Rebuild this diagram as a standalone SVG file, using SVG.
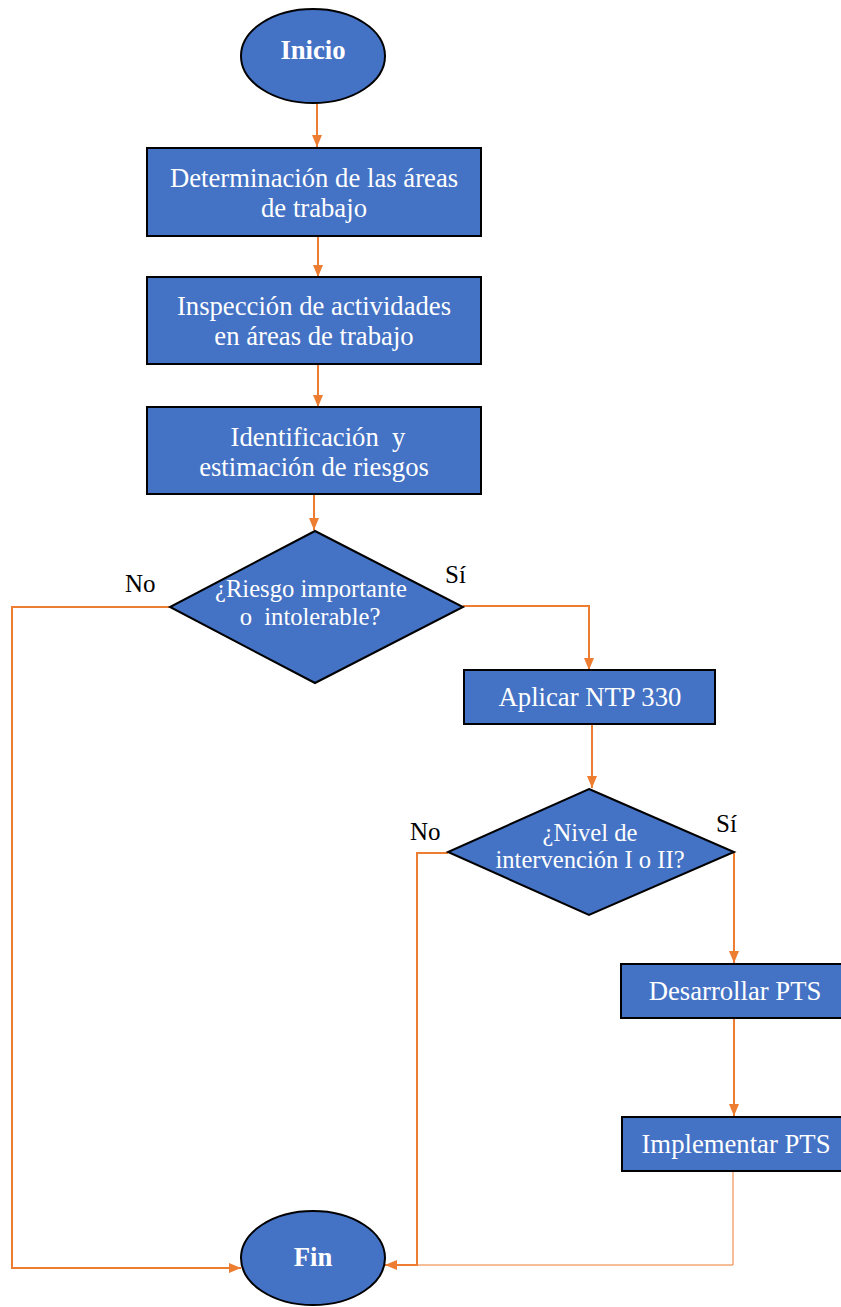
<svg xmlns="http://www.w3.org/2000/svg" width="841" height="1307" viewBox="0 0 841 1307" font-family="'Liberation Serif', 'Times New Roman', serif">
<style>
.shape{fill:#4472C4;stroke:#000;stroke-width:2}
.t{font-family:'Liberation Serif','Times New Roman',serif;font-size:26.7px;fill:#fff;text-anchor:middle}
.d{font-size:24.6px}
.b{font-weight:bold}
.lbl{font-family:'Liberation Serif','Times New Roman',serif;font-size:25px;fill:#000}
.c{fill:none;stroke:#ED7D31;stroke-width:2}
.thin{stroke-width:1}
</style>
<defs>
<marker id="ah" viewBox="0 0 12 10" refX="12" refY="5" markerWidth="12" markerHeight="10" markerUnits="userSpaceOnUse" orient="auto">
<path d="M0,0 L12,5 L0,10 z" fill="#ED7D31"/>
</marker>
</defs>
<g id="connectors">
<path class="c" d="M317,102 V147" marker-end="url(#ah)"/>
<path class="c" d="M318,236 V277" marker-end="url(#ah)"/>
<path class="c" d="M318,364 V407" marker-end="url(#ah)"/>
<path class="c" d="M314,494 V530" marker-end="url(#ah)"/>
<path class="c" d="M170,607 H12 V1268 H241" marker-end="url(#ah)"/>
<path class="c" d="M463,606 H589 V670" marker-end="url(#ah)"/>
<path class="c" d="M592,724 V788" marker-end="url(#ah)"/>
<path class="c" d="M448,853 H417 V1265 H385" marker-end="url(#ah)"/>
<path class="c" d="M734,852 V963" marker-end="url(#ah)"/>
<path class="c" d="M734,1018 V1116" marker-end="url(#ah)"/>
<path class="c thin" d="M733,1172 V1265 H400"/>
</g>
<g id="inicio">
<ellipse class="shape" cx="313" cy="56" rx="72" ry="47"/>
<text class="t b" x="313" y="59">Inicio</text>
</g>
<g id="determinacion">
<rect class="shape" x="147" y="148" width="334" height="88"/>
<text class="t" x="314" y="187">Determinación de las áreas</text>
<text class="t" x="314" y="217">de trabajo</text>
</g>
<g id="inspeccion">
<rect class="shape" x="147" y="277" width="334" height="87"/>
<text class="t" x="314" y="315">Inspección de actividades</text>
<text class="t" x="314" y="345">en áreas de trabajo</text>
</g>
<g id="identificacion">
<rect class="shape" x="147" y="407" width="334" height="87"/>
<text class="t" x="318" y="446" xml:space="preserve">Identificación  y</text>
<text class="t" x="314" y="476">estimación de riesgos</text>
</g>
<g id="decision1">
<polygon class="shape" points="315,531 463,607 315,683 170,607"/>
<text class="t d" x="311" y="597">¿Riesgo importante</text>
<text class="t d" x="310" y="625" xml:space="preserve">o  intolerable?</text>
<text class="lbl" x="125" y="592">No</text>
<text class="lbl" x="445" y="583">Sí</text>
</g>
<g id="aplicar">
<rect class="shape" x="464" y="670" width="251" height="54"/>
<text class="t" x="590" y="706">Aplicar NTP 330</text>
</g>
<g id="decision2">
<polygon class="shape" points="589,789 734,852 589,915 448,852"/>
<text class="t d" x="590" y="841">¿Nivel de</text>
<text class="t d" x="590" y="868">intervención I o II?</text>
<text class="lbl" x="410" y="840">No</text>
<text class="lbl" x="716" y="832">Sí</text>
</g>
<g id="desarrollar">
<rect class="shape" x="621" y="964" width="230" height="54"/>
<text class="t" x="735" y="1000">Desarrollar PTS</text>
</g>
<g id="implementar">
<rect class="shape" x="622" y="1117" width="230" height="54"/>
<text class="t" x="736" y="1153">Implementar PTS</text>
</g>
<g id="fin">
<ellipse class="shape" cx="313" cy="1258" rx="72" ry="47"/>
<text class="t b" x="313" y="1266">Fin</text>
</g>
</svg>
